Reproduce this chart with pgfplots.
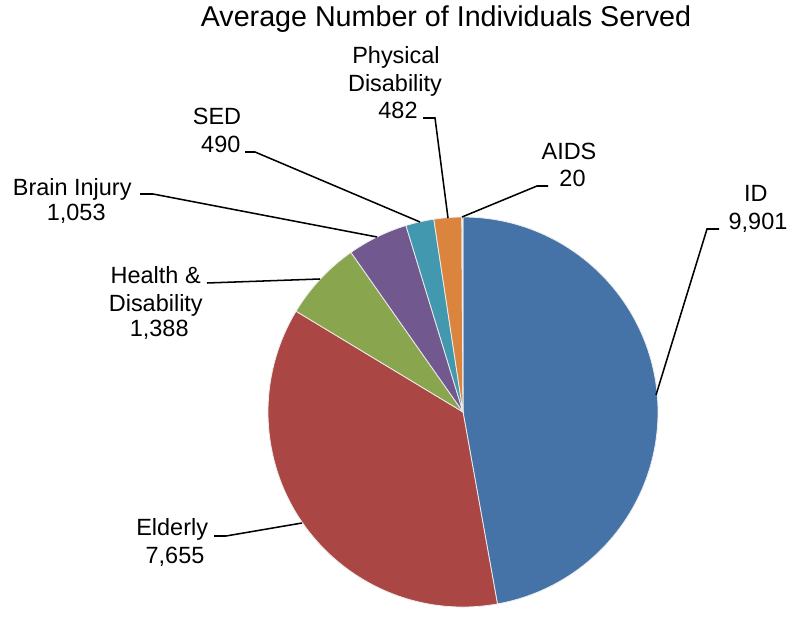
\documentclass[border=0pt]{standalone}
\usepackage{pgfplots}
\usepackage{pgfplotstable}
\pgfplotsset{compat=1.18}
\usepackage{fontspec}
\setmainfont{Liberation Sans}

\definecolor{slice0}{HTML}{4572A7}
\definecolor{slice1}{HTML}{AA4643}
\definecolor{slice2}{HTML}{89A54E}
\definecolor{slice3}{HTML}{71588F}
\definecolor{slice4}{HTML}{4198AF}
\definecolor{slice5}{HTML}{DB843D}
\definecolor{slice6}{HTML}{93A9CF}

\pgfplotstableread{
name value
ID 9901
Elderly 7655
Health 1388
Brain 1053
SED 490
PD 482
AIDS 20
}\piedata

\newcommand{\lab}{\fontsize{17.6}{20.6}\selectfont}

\begin{document}
\begin{tikzpicture}
\def\total{0}
\pgfplotsforeachungrouped \i in {0,...,6}{%
  \pgfplotstablegetelem{\i}{value}\of\piedata
  \pgfmathsetmacro\total{\total+\pgfplotsretval/1000}%
}
\begin{axis}[
  width=591.75pt, height=455.25pt, scale only axis,
  xmin=0, xmax=789, ymin=0, ymax=607,
  hide axis, clip=false,
]
\path (rel axis cs:0,0) rectangle (rel axis cs:1,1);
\def\startang{90}
\pgfplotsforeachungrouped \i in {0,...,6}{%
  \pgfplotstablegetelem{\i}{value}\of\piedata
  \pgfmathsetmacro\endang{\startang - 360*(\pgfplotsretval/1000)/\total}%
  \edef\cmd{\noexpand\fill[fill=slice\i, draw=white!85!gray, line width=0.6pt]
    (axis cs:463,195) -- (axis cs:{463+195*cos(\startang)},{195+195*sin(\startang)})
    arc[start angle=\startang, end angle=\endang, radius=146.25pt] -- cycle;}%
  \cmd
  \let\startang\endang
}
% leader lines
\begin{scope}[line width=1.15pt]
\draw (axis cs:719,378) -- (axis cs:707,378) -- (axis cs:656,212);
\draw (axis cs:548,421) -- (axis cs:537,421) -- (axis cs:462,390);
\draw (axis cs:423,489) -- (axis cs:435,489) -- (axis cs:448,389);
\draw (axis cs:245,455) -- (axis cs:255,455) -- (axis cs:420,385);
\draw (axis cs:140,413) -- (axis cs:153,413) -- (axis cs:377,370);
\draw (axis cs:207,324) -- (axis cs:320,328);
\draw (axis cs:214,71) -- (axis cs:226,71) -- (axis cs:302,84);
\end{scope}
% title
\node[anchor=base, inner sep=0pt, font=\fontsize{21.5}{25}\selectfont] at (axis cs:446,580) {Average Number of Individuals Served};
% labels
\node[anchor=base, inner sep=0pt, font=\lab] at (axis cs:755.8,405.3) {ID};
\node[anchor=base, inner sep=0pt, font=\lab] at (axis cs:758,377) {9,901};
\node[anchor=base, inner sep=0pt, font=\lab] at (axis cs:569,447.7) {AIDS};
\node[anchor=base, inner sep=0pt, font=\lab] at (axis cs:572.5,420.3) {20};
\node[anchor=base, inner sep=0pt, font=\lab] at (axis cs:396,543.7) {Physical};
\node[anchor=base, inner sep=0pt, font=\lab] at (axis cs:395,515.3) {Disability};
\node[anchor=base, inner sep=0pt, font=\lab] at (axis cs:398,488.7) {482};
\node[anchor=base, inner sep=0pt, font=\lab] at (axis cs:217,482) {SED};
\node[anchor=base, inner sep=0pt, font=\lab] at (axis cs:220.8,454.3) {490};
\node[anchor=base, inner sep=0pt, font=\lab] at (axis cs:72.2,411) {Brain Injury};
\node[anchor=base, inner sep=0pt, font=\lab] at (axis cs:76.2,386) {1,053};
\node[anchor=base, inner sep=0pt, font=\lab] at (axis cs:155.7,323) {Health \&};
\node[anchor=base, inner sep=0pt, font=\lab] at (axis cs:155.8,295.3) {Disability};
\node[anchor=base, inner sep=0pt, font=\lab] at (axis cs:159.2,270.3) {1,388};
\node[anchor=base, inner sep=0pt, font=\lab] at (axis cs:172.2,71) {Elderly};
\node[anchor=base, inner sep=0pt, font=\lab] at (axis cs:175,43.7) {7,655};
\end{axis}
\end{tikzpicture}
\end{document}
